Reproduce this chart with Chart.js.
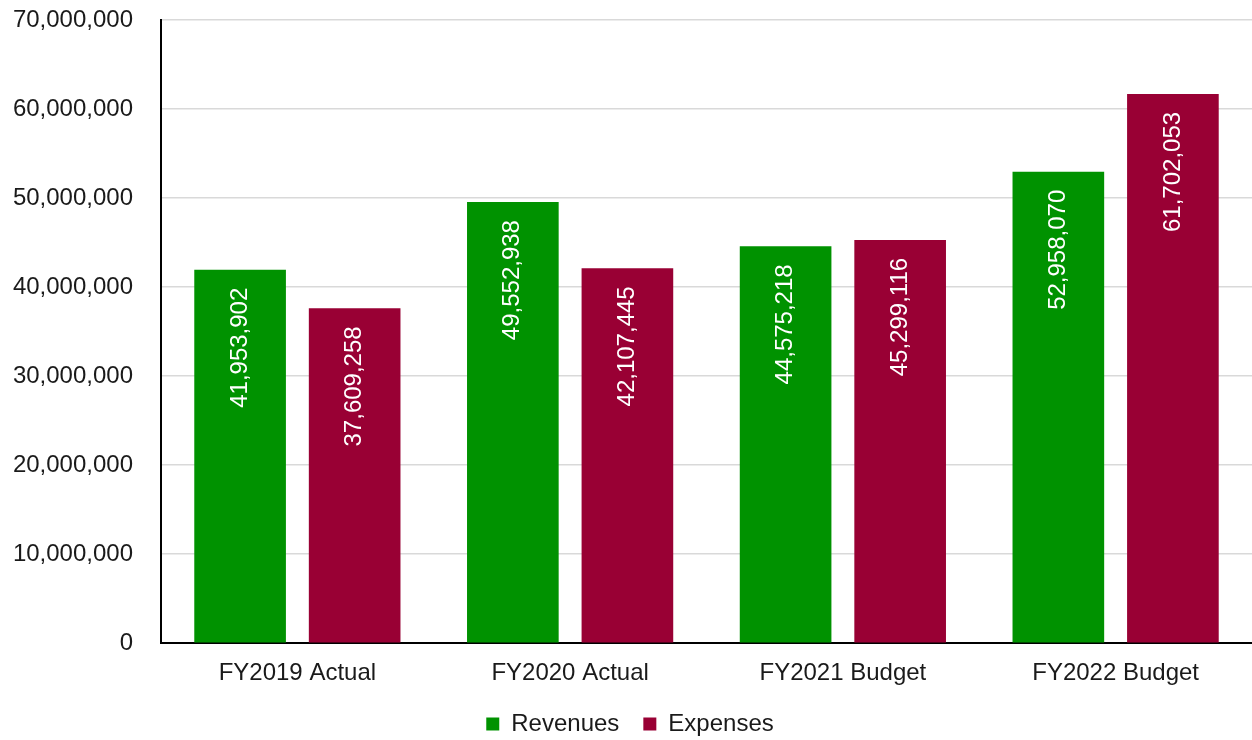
<!DOCTYPE html>
<html>
<head>
<meta charset="utf-8">
<script src="https://cdn.jsdelivr.net/npm/chart.js@4"></script>
<style>
  html, body { margin: 0; padding: 0; background: #fff; }
  #wrap { width: 1252px; height: 740px; }
</style>
</head>
<body>
<div id="wrap"><canvas id="chart"></canvas></div>
<script>
const categories = ["FY2019 Actual", "FY2020 Actual", "FY2021 Budget", "FY2022 Budget"];
const revenues = [41953902, 49552938, 44575218, 52958070];
const expenses = [37609258, 42107445, 45299116, 61702053];
const yTicks = [0, 10000000, 20000000, 30000000, 40000000, 50000000, 60000000, 70000000];

const fmt = (v) => v.toLocaleString("en-US");

// white vertical labels inside the top of each bar
const barLabels = {
  id: "barLabels",
  afterDatasetsDraw(chart) {
    const ctx = chart.ctx;
    ctx.save();
    ctx.fillStyle = "#ffffff";
    ctx.font = "24px 'Liberation Sans', Arial, sans-serif";
    ctx.textAlign = "right";
    ctx.textBaseline = "middle";
    chart.data.datasets.forEach((ds, i) => {
      chart.getDatasetMeta(i).data.forEach((bar, j) => {
        ctx.save();
        ctx.translate(bar.x, bar.y + 18);
        ctx.rotate(-Math.PI / 2);
        ctx.fillText(fmt(ds.data[j]), 0, 0);
        ctx.restore();
      });
    });
    ctx.restore();
  }
};

Chart.defaults.font.family = "'Liberation Sans', Arial, sans-serif";
Chart.defaults.font.size = 24;
Chart.defaults.color = "#1a1a1a";

new Chart(document.getElementById("chart").getContext("2d"), {
  type: "bar",
  data: {
    labels: categories,
    datasets: [
      { label: "Revenues", data: revenues, backgroundColor: "#009200" },
      { label: "Expenses", data: expenses, backgroundColor: "#990034" }
    ]
  },
  options: {
    responsive: true,
    maintainAspectRatio: false,
    animation: false,
    categoryPercentage: 0.84,
    barPercentage: 0.8,
    layout: { padding: { left: 8, top: 20, right: 0, bottom: -6 } },
    plugins: {
      legend: {
        position: "bottom",
        labels: { boxWidth: 13, boxHeight: 13, padding: 24, font: { size: 24 } }
      },
      tooltip: { enabled: false }
    },
    scales: {
      x: {
        grid: { display: false, drawTicks: false },
        border: { color: "#000", width: 2 },
        ticks: { padding: 16 },
        afterFit: (axis) => { axis.height = axis.height - 16; }
      },
      y: {
        min: 0,
        max: 70000000,
        afterBuildTicks: (axis) => { axis.ticks = yTicks.map((v) => ({ value: v })); },
        afterFit: (axis) => { axis.width = 153; axis.paddingTop = 0; axis.paddingBottom = 0; },
        grid: { color: "#d9d9d9", lineWidth: 1.5, drawTicks: false },
        border: { color: "#000", width: 2 },
        ticks: { padding: 28, callback: (v) => fmt(v) }
      }
    }
  },
  plugins: [barLabels]
});
</script>
</body>
</html>
